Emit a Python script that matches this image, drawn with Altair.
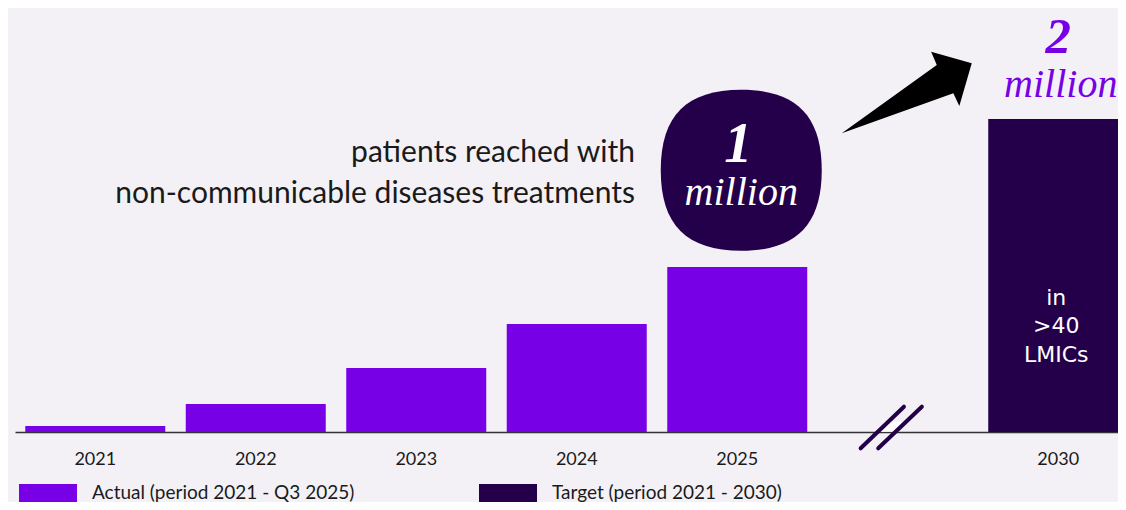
import altair as alt
import pandas as pd

# ---- data ----
years = ["2021", "2022", "2023", "2024", "2025", " ", "2030"]
bar_years = ["2021", "2022", "2023", "2024", "2025", "2030"]
patients_m = [0.038, 0.179, 0.409, 0.69, 1.054, 2.0]
series_labels = ["Actual (period 2021 - Q3 2025)", "Target (period 2021 - 2030)"]
bar_series = [series_labels[0]] * 5 + [series_labels[1]]
colors = ["#7800e6", "#24004a"]

headline = "patients reached with\nnon-communicable diseases treatments"
bubble_number = "1"
target_number = "2"
unit_word = "million"
target_note = "in\n>40\nLMICs"

bars_df = pd.DataFrame({"year": bar_years, "value": patients_m, "series": bar_series})
actual_last = bars_df[bars_df["year"] == "2025"]
target_row = bars_df[bars_df["year"] == "2030"]
gap_df = pd.DataFrame({"year": [" "], "value": [0.0], "top": [2.0]})

BG = "#f3f1f6"
DARK = "#24004a"
PURPLE = "#7800e6"
TEXT = "#1a1a1a"

X = alt.X(
    "year:N",
    sort=years,
    scale=alt.Scale(domain=years, range=[7, 1130.5], paddingInner=0.1277, paddingOuter=0.0639),
    axis=alt.Axis(
        title=None, labelAngle=0, ticks=False, grid=False,
        labelFont="Lato", labelFontSize=18, labelColor=TEXT, labelPadding=18,
        domainColor="#333333", domainWidth=1.5,
    ),
)
YSCALE = alt.Scale(domain=[0, 2.709], nice=False, zero=True)
Y = alt.Y("value:Q", scale=YSCALE, axis=None)

bars = alt.Chart(bars_df).mark_bar().encode(
    x=X, y=Y,
    color=alt.Color(
        "series:N",
        scale=alt.Scale(domain=series_labels, range=colors),
        legend=alt.Legend(
            title=None, orient="none", legendX=11, legendY=456,
            direction="horizontal", columns=2, columnPadding=124,
            symbolType="M-1,-0.31L1,-0.31L1,0.31L-1,0.31Z", symbolSize=3364,
            symbolStrokeWidth=0, symbolOpacity=1,
            labelFont="Lato", labelFontSize=19, labelColor=TEXT,
            labelOffset=15, labelLimit=0,
        ),
    ),
)

squircle = "M-1,0C-1,-0.68,-0.68,-1,0,-1C0.68,-1,1,-0.68,1,0C1,0.68,0.68,1,0,1C-0.68,1,-1,0.68,-1,0Z"
bubble = alt.Chart(actual_last).mark_point(
    shape=squircle, size=25921, filled=True, fill=DARK, opacity=1, strokeWidth=0,
    xOffset=4, yOffset=-96.7,
).encode(x=X, y=Y)

bubble_num = alt.Chart(actual_last).mark_text(
    font="Liberation Serif", fontStyle="italic", fontWeight="bold", fontSize=56,
    color="white", baseline="alphabetic", align="center", dx=1, dy=-105.3,
).encode(x=X, y=Y, text=alt.value(bubble_number))

bubble_unit = alt.Chart(actual_last).mark_text(
    font="Liberation Serif", fontStyle="italic", fontSize=40,
    color="white", baseline="alphabetic", align="center", dx=4, dy=-62,
).encode(x=X, y=Y, text=alt.value(unit_word))

target_num = alt.Chart(target_row).mark_text(
    font="Liberation Serif", fontStyle="italic", fontWeight="bold", fontSize=51,
    color=PURPLE, baseline="alphabetic", align="center", dx=0, dy=-65.5,
).encode(x=X, y=Y, text=alt.value(target_number))

target_unit = alt.Chart(target_row).mark_text(
    font="Liberation Serif", fontStyle="italic", fontSize=40,
    color=PURPLE, baseline="alphabetic", align="center", dx=2.5, dy=-22.3,
).encode(x=X, y=Y, text=alt.value(unit_word))

note = alt.Chart(target_row).mark_text(
    font="DejaVu Sans", fontSize=22, color="white", baseline="middle", align="center",
    lineBreak="\n", lineHeight=28.5, dx=-2, dy=179,
).encode(x=X, y=Y, text=alt.value(target_note))

head = alt.Chart(actual_last).mark_text(
    font="Lato", fontSize=30, color=TEXT, baseline="alphabetic", align="right",
    lineBreak="\n", lineHeight=41, dx=-102.25, dy=-105.2,
).encode(x=X, y=Y, text=alt.value(headline))

arrow_path = "M-1,0.628L0.462,-0.423L0.375,-0.628L1,-0.451L0.809,0.208L0.717,0.012Z"
arrow = alt.Chart(gap_df).mark_point(
    shape=arrow_path, size=16900, filled=True, fill="black", opacity=1, strokeWidth=0,
    xOffset=9, yOffset=-26.5,
).encode(x=X, y=alt.Y("top:Q", scale=YSCALE, axis=None))

patch = alt.Chart(gap_df).mark_point(
    shape="M-0.094,-0.187L0.473,-0.187L0.138,0.135L-0.429,0.135Z", size=3844,
    filled=True, fill="white", opacity=1, strokeWidth=0, xOffset=-6.5, yOffset=-4.5,
).encode(x=X, y=Y)

slashes = alt.Chart(gap_df).mark_point(
    shape="M-0.987,0.671L0.41,-0.671M-0.42,0.671L0.987,-0.671", size=3844,
    filled=False, stroke=DARK, strokeWidth=4, strokeCap="round", opacity=1,
    xOffset=-6.5, yOffset=-4.5,
).encode(x=X, y=Y)

chart = alt.layer(
    bars, bubble, bubble_num, bubble_unit, target_num, target_unit, note, head,
    arrow, patch, slashes,
).properties(
    width=1110, height=424, background=BG,
    autosize=alt.AutoSizeParams(type="none"),
    padding={"left": 0, "top": 0, "right": 0, "bottom": 70},
).configure_view(stroke=None)

chart.save("out.html", embed_options={"renderer": "svg", "actions": False})
